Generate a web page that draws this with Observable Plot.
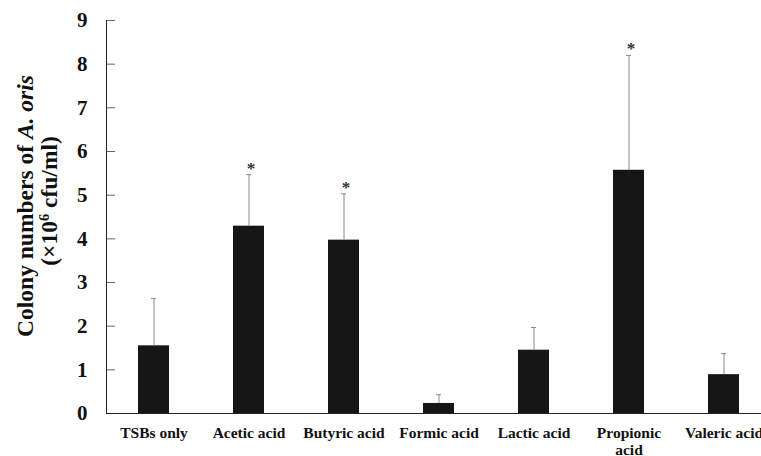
<!DOCTYPE html>
<html><head><meta charset="utf-8">
<script src="https://cdn.jsdelivr.net/npm/d3@7"></script>
<script src="https://cdn.jsdelivr.net/npm/@observablehq/plot@0.6"></script>
<style>body{margin:0;background:#fff;overflow:hidden;}</style>
</head><body><div id="chart"></div>
<script>
const categories = ["TSBs only","Acetic acid","Butyric acid","Formic acid","Lactic acid","Propionic\nacid","Valeric acid"];
const means = [1.55, 4.29, 3.97, 0.23, 1.45, 5.57, 0.89];
const errorTops = [2.63, 5.47, 5.03, 0.43, 1.97, 8.20, 1.37];
const significant = [false, true, true, false, false, true, false];
const yTicks = [0,1,2,3,4,5,6,7,8,9];
const yLabelLine1 = "Colony numbers of A. oris";
const yLabelLine2 = "(×106 cfu/ml)";

const data = categories.map((c,i)=>({cat:c, mean:means[i], top:errorTops[i], sig:significant[i]}));
const font = "'Liberation Serif', 'Times New Roman', serif";

const chart = Plot.plot({
  width: 761, height: 456,
  marginLeft: 106, marginRight: 0, marginTop: 20, marginBottom: 43,
  style: {fontFamily: font, background: "#fff", color: "#111"},
  x: {domain: categories, range: [106, 771], paddingInner: 0.67, paddingOuter: 0.335},
  y: {domain: [0, 9]},
  marks: [
    Plot.barY(data, {x:"cat", y:"mean", fill:"#161616"}),
    Plot.ruleX(data, {x:"cat", y1:"mean", y2:"top", stroke:"#8a8a8a", strokeWidth:1}),
    Plot.tickY(data, {x:"cat", y:"top", stroke:"#8a8a8a", inset:13}),
    Plot.text(data.filter(d=>d.sig), {x:"cat", y:"top", text:()=>"*", dx:2, dy:-1, lineAnchor:"bottom", fontSize:17, fontWeight:"bold", fill:"#333"}),
    Plot.axisX({tickSize:0, tickPadding:13, fontSize:15.5, fontWeight:"bold", lineAnchor:"top", lineHeight:1.08, fill:"#111", label:null}),
    Plot.axisY(yTicks, {tickSize:0, tickPadding:19, fontSize:21, fontWeight:"bold", fill:"#111", label:null}),
    Plot.axisY(yTicks, {tickSize:-9, tickFormat:()=>"", stroke:"#666", label:null}),
    Plot.ruleY([0], {stroke:"#222"}),
    Plot.frame({anchor:"left", stroke:"#222"}),
    Plot.text([yLabelLine1], {frameAnchor:"left", text:d=>d, rotate:-90, textAnchor:"middle", dx:-74, dy:-11, lineAnchor:"bottom", fontSize:23.5, fontWeight:"bold", fill:"#111"}),
    Plot.text([yLabelLine2], {frameAnchor:"left", text:d=>d, rotate:-90, textAnchor:"middle", dx:-50, dy:-16, lineAnchor:"bottom", fontSize:23.5, fontWeight:"bold", fill:"#111"})
  ]
});
document.getElementById("chart").appendChild(chart);

// rich text for the y label
const texts = d3.select(chart).selectAll("text");
const l1 = texts.filter(function(){ return this.textContent === yLabelLine1; });
l1.text(null);
l1.append("tspan").text("Colony numbers of ");
l1.append("tspan").attr("font-style","italic").text("A. oris");
const l2 = texts.filter(function(){ return this.textContent === yLabelLine2; });
l2.text(null);
l2.append("tspan").text("(×10");
l2.append("tspan").attr("baseline-shift","super").attr("font-size","0.62em").text("6");
l2.append("tspan").text(" cfu/ml)");
</script>
</body></html>
